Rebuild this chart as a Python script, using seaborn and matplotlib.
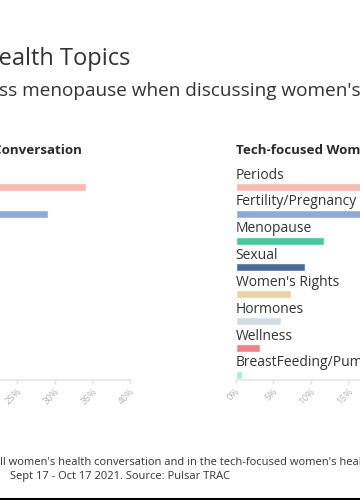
import matplotlib
matplotlib.use("Agg")
import matplotlib.pyplot as plt
import matplotlib.lines as mlines
import pandas as pd
import seaborn as sns

# data
topics = ["Periods", "Fertility/Pregnancy", "Menopause", "Sexual",
          "Women's Rights", "Hormones", "Wellness", "BreastFeeding/Pumping"]
all_share = [34.1, 29.1, 20.0, 14.0, 11.0, 9.0, 6.0, 2.0]
tech_share = [31.0, 28.0, 11.8, 9.3, 7.4, 6.0, 3.2, 0.8]
colors = ["#f9b9ae", "#8eaadc", "#44c99c", "#456c98",
          "#ebd2a5", "#d5dde2", "#f27f87", "#a9edcb"]
ticks = [0, 5, 10, 15, 20, 25, 30, 35, 40]

sns.set_style("white")
plt.rcParams["font.family"] = ["Open Sans", "DejaVu Sans"]

fig = plt.figure(figsize=(3.6, 5), dpi=100)
W, H = 360.0, 500.0

# panel positions in pixels (panels run past the edges of the crop)
panels = [
    (-171, "Overall Women's Health Conversation", all_share),
    (235.5, "Tech-focused Women's Health Conversation", tech_share),
]

for x0, heading, vals in panels:
    ax = fig.add_axes([x0 / W, (H - 380) / H, 301 / W, 230 / H])
    df = pd.DataFrame({"topic": topics, "share": vals})
    sns.barplot(data=df, x="share", y="topic", hue="topic", palette=colors,
                order=topics, hue_order=topics, width=0.3, legend=False,
                saturation=1, ax=ax)
    ax.set_xlim(0, 40)
    ax.set_ylim(7.2, -1.38)
    ax.set_xticks(ticks)
    ax.set_xticklabels([f"{t}%" for t in ticks], rotation=45, ha="right",
                       rotation_mode="anchor", fontsize=6.8, color="#b5b5b5")
    ax.tick_params(axis="x", length=3, width=1, color="#e3e3e3", pad=2,
                   bottom=True)
    ax.set_yticks([])
    ax.set_xlabel("")
    ax.set_ylabel("")
    for s in ["top", "right", "left"]:
        ax.spines[s].set_visible(False)
    ax.spines["bottom"].set_color("#e6e6e6")
    ax.spines["bottom"].set_linewidth(1.2)
    for i, t in enumerate(topics):
        ax.text(0, i - 0.31, t, fontsize=10, color="#333333", va="baseline",
                ha="left")
    ax.text(0, -1.22, heading, fontsize=9.6, fontweight="bold",
            color="#2b2b2b", va="baseline", ha="left")

# titles
fig.text(130 / W, (H - 65) / H, "Women's Health Topics", ha="right",
         va="baseline", fontsize=17, color="#333333")
fig.text(-1 / W, (H - 96.5) / H,
         "ss menopause when discussing women's health",
         ha="left", va="baseline", fontsize=13.7, color="#333333")

# footer
fig.text(0, (H - 465) / H,
         "ll women's health conversation and in the tech-focused women's health conversation.",
         ha="left", va="baseline", fontsize=8, color="#333333")
fig.text(10 / W, (H - 479) / H, "Sept 17 - Oct 17 2021. Source: Pulsar TRAC",
         ha="left", va="baseline", fontsize=8, color="#333333")

fig.add_artist(mlines.Line2D([0, 1], [0.002, 0.002], color="black", lw=1.5,
                             transform=fig.transFigure))

fig.savefig("out.png", dpi=100)
